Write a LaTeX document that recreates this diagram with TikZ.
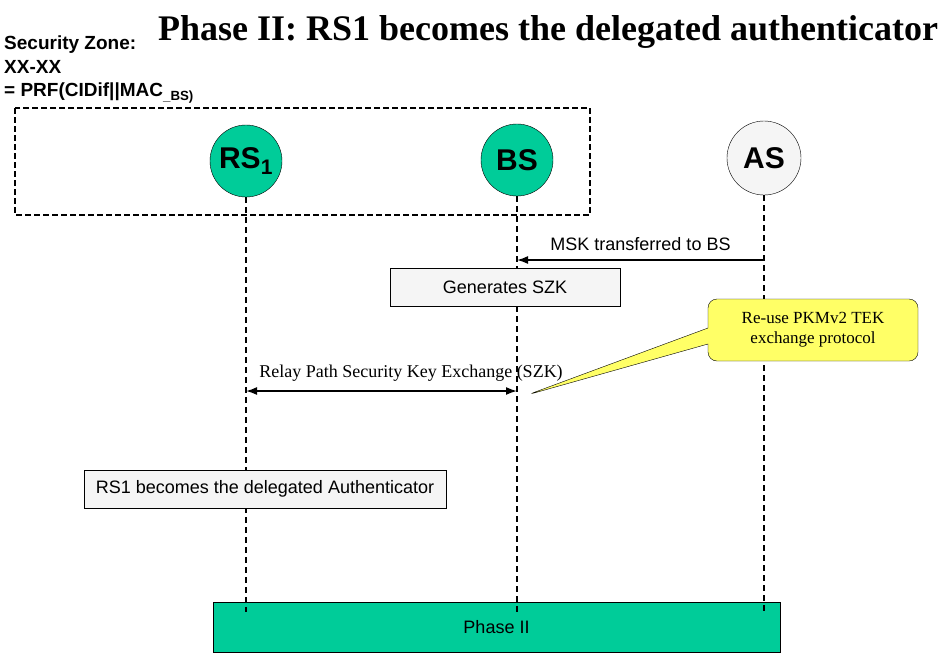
\documentclass[tikz,border=0pt]{standalone}
\usepackage{fontspec}
\setmainfont{Liberation Serif}
\setsansfont{Liberation Sans}
\usetikzlibrary{arrows.meta, shapes.callouts}

\definecolor{zonegreen}{RGB}{0,204,153}
\definecolor{boxgray}{RGB}{245,245,245}
\definecolor{noteyellow}{RGB}{255,255,102}

\tikzset{
    entity/.style={circle, draw, thin, minimum size=72pt, inner sep=0pt, fill=zonegreen,
        font=\sffamily\bfseries\fontsize{30}{30}\selectfont},
    lifeline/.style={line width=1.6pt, dash pattern=on 6pt off 4pt},
    actionbox/.style={draw, thin, fill=boxgray, minimum height=38pt, inner sep=0pt,
        font=\sffamily\fontsize{18}{18}\selectfont},
    msg/.style={line width=1.6pt, -{Latex[length=11pt,width=8pt]}},
    dmsg/.style={line width=1.6pt, {Latex[length=11pt,width=8pt]}-{Latex[length=11pt,width=8pt]}},
}

\begin{document}
\begin{tikzpicture}[x=1pt, y=-1pt]
    \useasboundingbox (0, 0) rectangle (950, 654);

    % title and zone label
    \node[anchor=base west, inner sep=0pt, font=\bfseries\fontsize{36}{36}\selectfont] (title) at (158, 40)
        {Phase II: RS1 becomes the delegated authenticator};
    \node[anchor=north west, inner sep=0pt, align=left, font=\sffamily\bfseries\fontsize{19}{23.5}\selectfont] (zonelbl) at (4, 36)
        {Security Zone:\\XX-XX\\= PRF(CIDif||MAC\textsubscript{\_BS)}};

    % security zone
    \draw[line width=2pt, dash pattern=on 6pt off 3pt] (15, 108) rectangle (590, 215);

    % entities
    \node[entity] (rs) at (246, 161) {RS\textsubscript{1}};
    \node[entity] (bs) at (517, 160) {BS};
    \node[entity, fill=boxgray, minimum size=74pt] (as) at (764, 158) {AS};

    % phase bar
    \node[draw, thin, fill=zonegreen, minimum width=567pt, minimum height=50pt, inner sep=0pt,
        font=\sffamily\fontsize{18}{18}\selectfont] (phase) at (496.5, 627) {Phase II};

    % lifelines
    \coordinate (rs-end) at (rs |- 0, 612);
    \coordinate (bs-end) at (bs |- 0, 612);
    \coordinate (as-end) at (as |- 0, 612);
    \draw[lifeline] (rs.south) -- (rs-end);
    \draw[lifeline] (bs.south) -- (bs-end);
    \draw[lifeline] (as.south) -- (as-end);

    % actions
    \node[actionbox, minimum width=230pt] (gen) at (505, 287) {Generates SZK};
    \node[actionbox, minimum width=362pt] (deleg) at (265, 489) {RS1 becomes the delegated Authenticator};

    % messages
    \coordinate (msk-as) at (as |- 0, 260);
    \coordinate (msk-bs) at (bs |- 0, 260);
    \draw[msg] (msk-as) -- node[above=5pt, font=\sffamily\fontsize{18}{18}\selectfont] (msklbl) {MSK transferred to BS} (msk-bs);

    \coordinate (szk-rs) at (rs |- 0, 391);
    \coordinate (szk-bs) at (bs |- 0, 391);
    \draw[dmsg] (szk-rs) -- (szk-bs);
    \node[font=\fontsize{18}{18}\selectfont, inner sep=0pt] (szklbl) at (411, 373) {Relay Path Security Key Exchange (SZK)};

    % note
    \coordinate (tip) at (527, 395);
    \node[rectangle callout, draw, thin, fill=noteyellow, rounded corners=9pt, minimum width=210pt,
        minimum height=62pt, align=center, callout absolute pointer={(tip)}, callout pointer width=16pt,
        font=\fontsize{17}{20}\selectfont] (reuse) at (813, 330) {Re-use PKMv2 TEK\\exchange protocol};
\end{tikzpicture}
\end{document}
